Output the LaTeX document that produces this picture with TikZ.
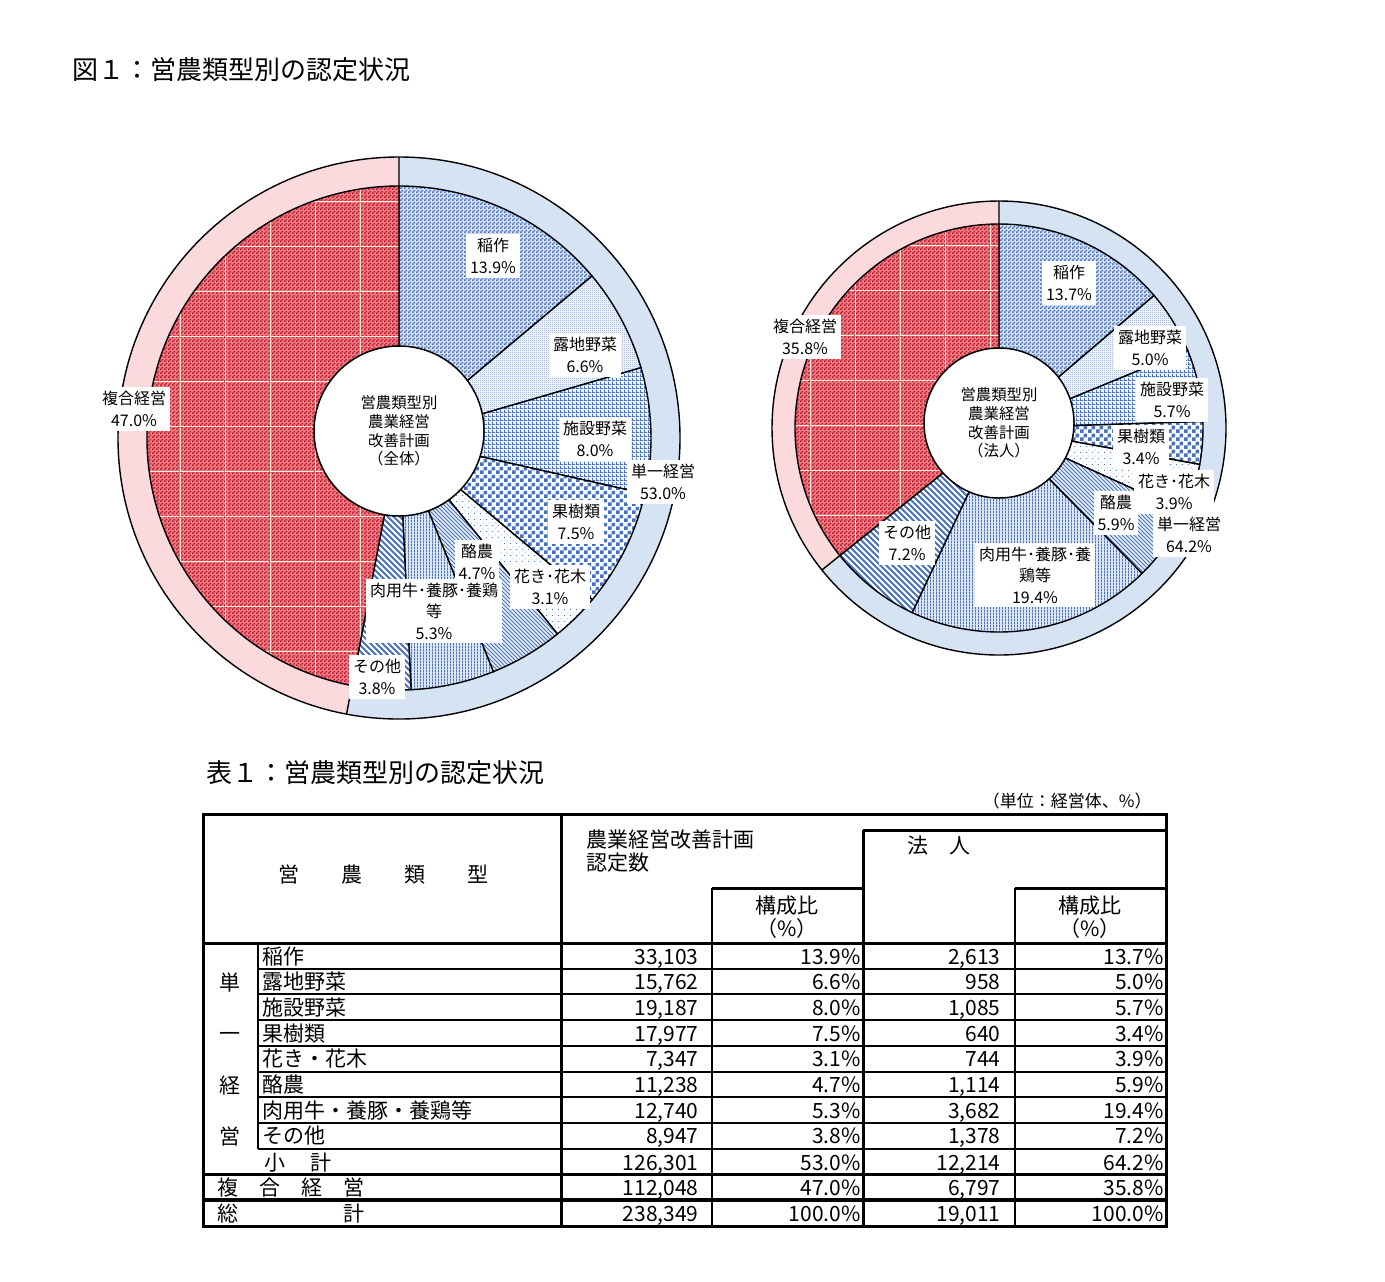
\documentclass[tikz,border=0pt]{standalone}
\usepackage{fontspec}
\setmainfont{Noto Sans CJK JP}
\usetikzlibrary{patterns}

\definecolor{patblue}{RGB}{70,114,190}
\definecolor{patred}{RGB}{204,24,40}
\definecolor{ringblue}{RGB}{214,227,243}
\definecolor{ringred}{RGB}{250,218,220}
\definecolor{gridcream}{RGB}{255,236,220}

% fill patterns of the slices
\pgfdeclarepatternformonly{chkS}{\pgfpointorigin}{\pgfqpoint{2pt}{2pt}}{\pgfqpoint{2pt}{2pt}}{%
  \pgfpathrectangle{\pgfpointorigin}{\pgfqpoint{1pt}{1pt}}%
  \pgfpathrectangle{\pgfqpoint{1pt}{1pt}}{\pgfqpoint{1pt}{1pt}}%
  \pgfusepath{fill}}
\pgfdeclarepatternformonly{chkL}{\pgfpointorigin}{\pgfqpoint{4pt}{4pt}}{\pgfqpoint{4pt}{4pt}}{%
  \pgfpathrectangle{\pgfpointorigin}{\pgfqpoint{2pt}{2pt}}%
  \pgfpathrectangle{\pgfqpoint{2pt}{2pt}}{\pgfqpoint{2pt}{2pt}}%
  \pgfusepath{fill}}
\pgfdeclarepatternformonly{dotS}{\pgfpointorigin}{\pgfqpoint{1pt}{1pt}}{\pgfqpoint{1pt}{1pt}}{%
  \pgfpathrectangle{\pgfpointorigin}{\pgfqpoint{0.5pt}{0.5pt}}%
  \pgfusepath{fill}}
\pgfdeclarepatternformonly{dotL}{\pgfpointorigin}{\pgfqpoint{3pt}{3pt}}{\pgfqpoint{3pt}{3pt}}{%
  \pgfpathrectangle{\pgfpointorigin}{\pgfqpoint{0.5pt}{0.5pt}}%
  \pgfpathrectangle{\pgfqpoint{1.5pt}{1.5pt}}{\pgfqpoint{0.5pt}{0.5pt}}%
  \pgfusepath{fill}}
\pgfdeclarepatternformonly{gridS}{\pgfpointorigin}{\pgfqpoint{2pt}{2pt}}{\pgfqpoint{2pt}{2pt}}{%
  \pgfpathrectangle{\pgfpointorigin}{\pgfqpoint{2pt}{0.5pt}}%
  \pgfpathrectangle{\pgfpointorigin}{\pgfqpoint{0.5pt}{2pt}}%
  \pgfusepath{fill}}
\pgfdeclarepatternformonly{vlin}{\pgfpointorigin}{\pgfqpoint{1.5pt}{1.5pt}}{\pgfqpoint{1.5pt}{1.5pt}}{%
  \pgfpathrectangle{\pgfpointorigin}{\pgfqpoint{0.5pt}{1.5pt}}%
  \pgfusepath{fill}}
\pgfdeclarepatternformonly{nwS}{\pgfqpoint{-1pt}{-1pt}}{\pgfqpoint{3pt}{3pt}}{\pgfqpoint{2pt}{2pt}}{%
  \pgfsetlinewidth{0.45pt}%
  \pgfpathmoveto{\pgfqpoint{0pt}{2pt}}\pgfpathlineto{\pgfqpoint{2.1pt}{-0.1pt}}%
  \pgfusepath{stroke}}
\pgfdeclarepatternformonly{nwL}{\pgfqpoint{-1pt}{-1pt}}{\pgfqpoint{4pt}{4pt}}{\pgfqpoint{3pt}{3pt}}{%
  \pgfsetlinewidth{1pt}%
  \pgfpathmoveto{\pgfqpoint{0pt}{3pt}}\pgfpathlineto{\pgfqpoint{3.1pt}{-0.1pt}}%
  \pgfusepath{stroke}}
\pgfdeclarepatternformonly{cgrid}{\pgfpointorigin}{\pgfqpoint{22.5pt}{22.5pt}}{\pgfqpoint{22.5pt}{22.5pt}}{%
  \pgfpathrectangle{\pgfpointorigin}{\pgfqpoint{22.5pt}{0.5pt}}%
  \pgfpathrectangle{\pgfpointorigin}{\pgfqpoint{0.5pt}{22.5pt}}%
  \pgfusepath{fill}}

\begin{document}
\begin{tikzpicture}[x=0.5pt,y=-0.5pt,
    slice/.style={draw=black,line width=0.7pt},
    lbl/.style={fill=white,inner sep=2pt,align=center,font=\fontsize{8}{10.8}\selectfont},
    hub/.style={circle,draw=black,line width=0.75pt,fill=white,align=center,font=\fontsize{7.7}{9.3}\selectfont},
    cell/.style={inner sep=0pt,text height=9pt,text depth=1pt,font=\fontsize{10.5}{11.5}\selectfont},
    ttl/.style={anchor=west,inner sep=0pt,font=\fontsize{13}{15}\selectfont},
    tk/.style={line width=1.5pt},
    tm/.style={line width=1pt}]
  \useasboundingbox (0,0) rectangle (1385,1281);

  % Titles
  \node[ttl] (fig) at (72,70) {図１：営農類型別の認定状況};
  \node[ttl] (tab) at (206,773) {表１：営農類型別の認定状況};

  % Chart: all
  \begin{scope}[shift={(399,438)},yscale=-1]
    \fill[ringblue] (0,0) -- (90:281) arc[start angle=90,end angle=-100.76,radius=281] -- cycle;
    \fill[ringred] (0,0) -- (-100.76:281) arc[start angle=-100.76,end angle=-270,radius=281] -- cycle;
    \draw[slice] (0,0) circle[radius=281];
    \draw[slice] (90:252) -- (90:281) (-100.76:252) -- (-100.76:281);
    \foreach \a/\b/\p/\t in {90/40.00/chkS/22, 40.00/16.20/dotS/8, 16.20/-12.78/gridS/8, -12.78/-39.93/chkL/0,
        -39.93/-51.03/dotL/0, -51.03/-68.01/nwS/10, -68.01/-87.25/vlin/18, -87.25/-100.76/nwL/0}
      \draw[slice,preaction={fill=patblue!\t},pattern=\p,pattern color=patblue] (0,0) -- (\a:252) arc[start angle=\a,end angle=\b,radius=252] -- cycle;
    \fill[patred!55,postaction={pattern=chkS,pattern color=patred}] (0,0) -- (-100.76:252) arc[start angle=-100.76,end angle=-270,radius=252] -- cycle;
    \fill[pattern=cgrid,pattern color=gridcream] (0,0) -- (-100.76:252) arc[start angle=-100.76,end angle=-270,radius=252] -- cycle;
    \draw[slice] (0,0) -- (-100.76:252) arc[start angle=-100.76,end angle=-270,radius=252] -- cycle;
  \end{scope}
  \node[hub,minimum size=85pt] (hubA) at (399,431) {営農類型別\\農業経営\\改善計画\\（全体）};

  \node[lbl] (a1) at (493,256) {稲作\\13.9\%};
  \node[lbl] (a2) at (585,355) {露地野菜\\6.6\%};
  \node[lbl] (a3) at (595,439) {施設野菜\\8.0\%};
  \node[lbl] (a4) at (576,522) {果樹類\\7.5\%};
  \node[lbl] (a5) at (550,587) {花き･花木\\3.1\%};
  \node[lbl] (a6) at (477,562) {酪農\\4.7\%};
  \node[lbl] (a7) at (434,611) {肉用牛･養豚･養鶏\\等\\5.3\%};
  \node[lbl] (a8) at (377,677) {その他\\3.8\%};
  \node[lbl] (a9) at (134,409) {複合経営\\47.0\%};
  \node[lbl] (a10) at (663,482) {単一経営\\53.0\%};

  % Chart: corporations
  \begin{scope}[shift={(999,428)},yscale=-1]
    \fill[ringblue] (0,0) -- (90:227) arc[start angle=90,end angle=-141.29,radius=227] -- cycle;
    \fill[ringred] (0,0) -- (-141.29:227) arc[start angle=-141.29,end angle=-270,radius=227] -- cycle;
    \draw[slice] (0,0) circle[radius=227];
    \draw[slice] (90:204) -- (90:227) (-141.29:204) -- (-141.29:227);
    \foreach \a/\b/\p/\t in {90/40.52/chkS/22, 40.52/22.38/dotS/8, 22.38/1.83/gridS/8, 1.83/-10.29/chkL/0,
        -10.29/-24.38/dotL/0, -24.38/-45.47/nwS/10, -45.47/-115.20/vlin/18, -115.20/-141.29/nwL/0}
      \draw[slice,preaction={fill=patblue!\t},pattern=\p,pattern color=patblue] (0,0) -- (\a:204) arc[start angle=\a,end angle=\b,radius=204] -- cycle;
    \fill[patred!55,postaction={pattern=chkS,pattern color=patred}] (0,0) -- (-141.29:204) arc[start angle=-141.29,end angle=-270,radius=204] -- cycle;
    \fill[pattern=cgrid,pattern color=gridcream] (0,0) -- (-141.29:204) arc[start angle=-141.29,end angle=-270,radius=204] -- cycle;
    \draw[slice] (0,0) -- (-141.29:204) arc[start angle=-141.29,end angle=-270,radius=204] -- cycle;
  \end{scope}
  \node[hub,minimum size=75pt] (hubB) at (999,423) {営農類型別\\農業経営\\改善計画\\（法人）};

  \node[lbl] (b1) at (1069,283) {稲作\\13.7\%};
  \node[lbl] (b2) at (1150,348) {露地野菜\\5.0\%};
  \node[lbl] (b3) at (1172,400) {施設野菜\\5.7\%};
  \node[lbl] (b4) at (1141,447) {果樹類\\3.4\%};
  \node[lbl] (b5) at (1174,492) {花き･花木\\3.9\%};
  \node[lbl] (b6) at (1116,513) {酪農\\5.9\%};
  \node[lbl] (b7) at (1035,575) {肉用牛･養豚･養\\鶏等\\19.4\%};
  \node[lbl] (b8) at (907,543) {その他\\7.2\%};
  \node[lbl] (b9) at (805,337) {複合経営\\35.8\%};
  \node[lbl] (b10) at (1189,535) {単一経営\\64.2\%};

  % Table
  \node[anchor=east,inner sep=0pt,font=\fontsize{8.5}{10}\selectfont] (unit) at (1152,801) {（単位：経営体、\%）};
  \draw[tk] (203,814) rectangle (1166,1226);
  \draw[tk] (561,814) -- (561,1226);
  \draw[tk] (863,830) -- (1166,830);
  \draw[tk] (863,830) -- (863,1226);
  \draw[tk] (712,888) -- (863,888);
  \draw[tk] (1015,888) -- (1166,888);
  \draw[tm] (712,888) -- (712,1226);
  \draw[tm] (1015,888) -- (1015,1226);
  \draw[tk] (203,943) -- (1166,943);
  \draw[tm] (258,943) -- (258,1149);
  \foreach \y in {968.7,994.4,1020.1,1045.8,1071.5,1097.2,1122.9,1148.6}
    \draw[tm] (258,\y) -- (1166,\y);
  \draw[tk] (203,1174.3) -- (1166,1174.3);
  \draw[line width=2pt] (203,1200) -- (1166,1200);

  % Header
  \node[cell] (hType) at (383,874) {営\hspace{21pt}農\hspace{21pt}類\hspace{21pt}型};
  \node[anchor=west,inner sep=0pt,align=left,font=\fontsize{10.5}{11.5}\selectfont] (hAll) at (586,851) {農業経営改善計画\\認定数};
  \node[cell] (hCorp) at (939,845) {法　人};
  \node[inner sep=0pt,align=center,font=\fontsize{10.5}{11.5}\selectfont] (hPa) at (787,917) {構成比\\（\%）};
  \node[inner sep=0pt,align=center,font=\fontsize{10.5}{11.5}\selectfont] (hPb) at (1090,917) {構成比\\（\%）};

  % Rows
  \node[cell] (s1) at (230,982) {単};
  \node[cell] (s2) at (230,1033) {一};
  \node[cell] (s3) at (230,1085) {経};
  \node[cell] (s4) at (230,1136) {営};
  \foreach \i/\nm/\na/\pa/\nb/\pb in {1/稲作/{33,103}/13.9/{2,613}/13.7, 2/露地野菜/{15,762}/6.6/958/5.0,
      3/施設野菜/{19,187}/8.0/{1,085}/5.7, 4/果樹類/{17,977}/7.5/640/3.4, 5/花き・花木/{7,347}/3.1/744/3.9,
      6/酪農/{11,238}/4.7/{1,114}/5.9, 7/肉用牛・養豚・養鶏等/{12,740}/5.3/{3,682}/19.4, 8/その他/{8,947}/3.8/{1,378}/7.2}
  {
    \node[cell,anchor=west] (cat\i) at (262,{956+25.7*(\i-1)}) {\nm};
    \node[cell,anchor=east] (na\i) at (699,{956+25.7*(\i-1)}) {\na};
    \node[cell,anchor=east] (pa\i) at (861,{956+25.7*(\i-1)}) {\pa\%};
    \node[cell,anchor=east] (nb\i) at (1001,{956+25.7*(\i-1)}) {\nb};
    \node[cell,anchor=east] (pb\i) at (1164,{956+25.7*(\i-1)}) {\pb\%};
  }
  \node[cell,anchor=west] (cat9) at (264,1162) {小\hspace{12.5pt}計};
  \node[cell,anchor=east] (na9) at (699,1162) {126,301};
  \node[cell,anchor=east] (pa9) at (861,1162) {53.0\%};
  \node[cell,anchor=east] (nb9) at (1001,1162) {12,214};
  \node[cell,anchor=east] (pb9) at (1164,1162) {64.2\%};
  \node[cell,anchor=west] (cat10) at (217,1187) {複　合　経　営};
  \node[cell,anchor=east] (na10) at (699,1187) {112,048};
  \node[cell,anchor=east] (pa10) at (861,1187) {47.0\%};
  \node[cell,anchor=east] (nb10) at (1001,1187) {6,797};
  \node[cell,anchor=east] (pb10) at (1164,1187) {35.8\%};
  \node[cell,anchor=west] (cat11) at (217,1213) {総　　　　　計};
  \node[cell,anchor=east] (na11) at (699,1213) {238,349};
  \node[cell,anchor=east] (pa11) at (861,1213) {100.0\%};
  \node[cell,anchor=east] (nb11) at (1001,1213) {19,011};
  \node[cell,anchor=east] (pb11) at (1164,1213) {100.0\%};
\end{tikzpicture}
\end{document}
